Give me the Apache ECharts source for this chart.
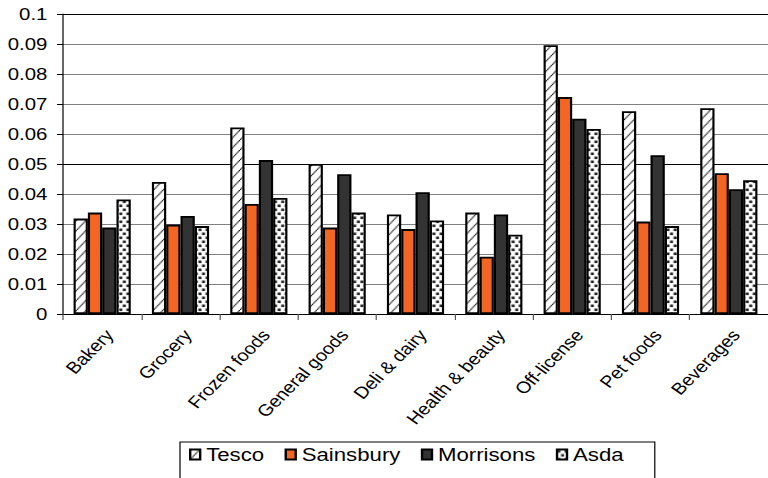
<!DOCTYPE html>
<html>
<head>
<meta charset="utf-8">
<script src="https://cdn.jsdelivr.net/npm/echarts@6/dist/echarts.min.js"></script>
<style>
  html, body { margin: 0; padding: 0; background: #fff; overflow: hidden; }
  #wrap { width: 768px; height: 478px; overflow: hidden; }
  #chart { width: 640px; height: 478px; transform: scaleX(1.2); transform-origin: 0 0; }
</style>
</head>
<body>
<div id="wrap"><div id="chart"></div></div>
<script>
// ---- data ----
var categories = ['Bakery', 'Grocery', 'Frozen foods', 'General goods', 'Deli & dairy',
                  'Health & beauty', 'Off-license', 'Pet foods', 'Beverages'];
var seriesNames = ['Tesco', 'Sainsbury', 'Morrisons', 'Asda'];
var tesco     = [0.0318, 0.0440, 0.0622, 0.0500, 0.0332, 0.0338, 0.0896, 0.0676, 0.0686];
var sainsbury = [0.0338, 0.0298, 0.0367, 0.0288, 0.0283, 0.0191, 0.0723, 0.0308, 0.0469];
var morrisons = [0.0288, 0.0327, 0.0513, 0.0466, 0.0406, 0.0332, 0.0651, 0.0529, 0.0416];
var asda      = [0.0382, 0.0293, 0.0387, 0.0338, 0.0312, 0.0264, 0.0617, 0.0293, 0.0446];
var yTickLabels = ['0', '0.01', '0.02', '0.03', '0.04', '0.05', '0.06', '0.07', '0.08', '0.09', '0.1'];

// ---- fill patterns ----
function hatchPattern() {
  var w = 8, h = 10;
  var c = document.createElement('canvas');
  c.width = w; c.height = h;
  var g = c.getContext('2d');
  g.fillStyle = '#fff'; g.fillRect(0, 0, w, h);
  g.strokeStyle = '#000'; g.lineWidth = 1;
  for (var k = -1; k <= 1; k++) {
    g.beginPath();
    g.moveTo(k * w, h);
    g.lineTo(k * w + w, 0);
    g.stroke();
  }
  return { image: c, repeat: 'repeat', imageWidth: w, imageHeight: h };
}
function dotPattern() {
  var w = 6, h = 8;
  var c = document.createElement('canvas');
  c.width = w; c.height = h;
  var g = c.getContext('2d');
  g.fillStyle = '#fff'; g.fillRect(0, 0, w, h);
  g.fillStyle = '#000';
  g.fillRect(0.5, 0.5, 2.2, 2.6);
  g.fillRect(3.5, 4.5, 2.2, 2.6);
  return { image: c, repeat: 'repeat', imageWidth: w, imageHeight: h };
}

var FONT = 'Liberation Sans, Arial, sans-serif';
var fills = [hatchPattern(), '#F26522', '#333333', dotPattern()];
var values = [tesco, sainsbury, morrisons, asda];

var chart = echarts.init(document.getElementById('chart'), null, { renderer: 'svg' });

var series = seriesNames.map(function (name, i) {
  return {
    name: name,
    type: 'bar',
    data: values[i],
    barGap: '0%',
    barCategoryGap: '27%',
    itemStyle: { color: fills[i], borderColor: '#000', borderWidth: 1.8 },
    emphasis: { disabled: true }
  };
});

chart.setOption({
  animation: false,
  backgroundColor: '#fff',
  textStyle: { fontFamily: FONT },
  grid: { left: 52.5, right: 0, top: 14, bottom: 164, containLabel: false },
  legend: {
    data: seriesNames,
    left: 150,
    top: 442,
    padding: [3, 26, 40, 7.5],
    itemGap: 17,
    itemWidth: 8.3,
    itemHeight: 10,
    icon: 'rect',
    borderColor: '#000',
    borderWidth: 1,
    textStyle: { fontFamily: FONT, fontSize: 18.5, color: '#000' },
    selectedMode: false
  },
  xAxis: {
    type: 'category',
    data: categories,
    axisLine: { show: true, lineStyle: { color: '#000', width: 1 } },
    axisTick: { show: true, alignWithLabel: false, length: 6, lineStyle: { color: '#555' } },
    axisLabel: {
      interval: 0,
      rotate: 50,
      margin: 13,
      align: 'right',
      verticalAlign: 'top',
      padding: [0, 0, 0, 0],
      lineHeight: 16,
      fontSize: 16.5,
      fontFamily: FONT,
      color: '#000'
    },
    splitLine: { show: false }
  },
  yAxis: {
    type: 'value',
    min: 0,
    max: 0.1,
    interval: 0.01,
    axisLine: { show: true, lineStyle: { color: '#000', width: 1 } },
    axisTick: { show: true, length: 5, lineStyle: { color: '#000' } },
    axisLabel: {
      margin: 13,
      fontSize: 17,
      fontFamily: FONT,
      color: '#000',
      formatter: function (v) { return yTickLabels[Math.round(v / 0.01)]; }
    },
    splitLine: {
      show: true,
      lineStyle: { color: ['#000', '#808080', '#808080', '#808080', '#808080'], width: 1 }
    }
  },
  series: series
});
</script>
</body>
</html>
